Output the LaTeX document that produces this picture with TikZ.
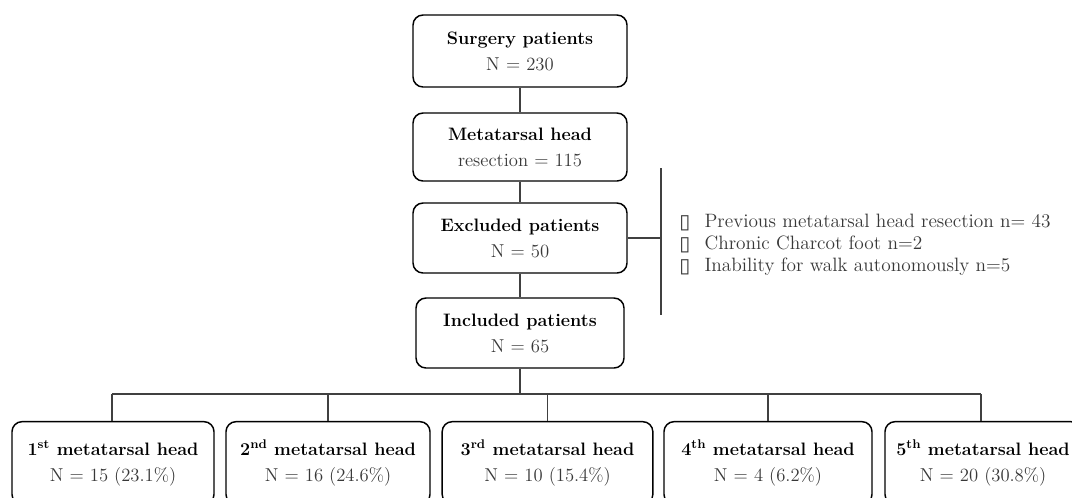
\documentclass[tikz,border=0pt]{standalone}
\usepackage{fontspec}
\newfontfamily\symfont{DejaVu Sans}
\definecolor{txtgray}{HTML}{383838}
\definecolor{linegray}{HTML}{404040}
\tikzset{
  box/.style={draw=black, line width=1.1pt, rounded corners=7.5pt, align=center,
    inner sep=0pt, font=\fontsize{13.5}{19.5}\selectfont},
  conn/.style={draw=linegray, line width=0.8pt},
  listtext/.style={align=left, inner sep=0pt, anchor=west, text=txtgray,
    font=\fontsize{14.5}{16.5}\selectfont},
}
\newcommand{\ttl}[1]{{\bfseries #1}}
\newcommand{\nval}[1]{{\color{txtgray}\fontsize{14}{19.5}\selectfont #1}}
\newcommand{\bul}{\makebox[19pt][l]{\raisebox{-0.5pt}{\symfont\fontsize{15}{15}\selectfont ▯}}}
\begin{document}
\begin{tikzpicture}[x=0.75pt,y=-0.75pt]
\useasboundingbox (0,0) rectangle (1072,497);
\clip (0,0) rectangle (1072,497);
% top column
\node[box, minimum width=160.5pt, minimum height=54pt] (surg) at (520,51)
  {\ttl{Surgery patients}\\\nval{N = 230}};
\node[box, minimum width=160.5pt, minimum height=51pt] (meta) at (520,147)
  {\ttl{Metatarsal head}\\\nval{resection = 115}};
\node[box, minimum width=160.5pt, minimum height=52.5pt] (excl) at (520,238)
  {\ttl{Excluded patients}\\\nval{N = 50}};
\node[box, minimum width=156pt, minimum height=52.5pt] (incl) at (520,333)
  {\ttl{Included patients}\\\nval{N = 65}};
\draw[conn] (surg.south) -- (meta.north);
\draw[conn] (meta.south) -- (excl.north);
\draw[conn] (excl.south) -- (incl.north);
% exclusion reasons
\coordinate (sideTop) at (661,168);
\coordinate (sideBot) at (661,315);
\draw[conn] (sideTop) -- (sideBot);
\draw[conn] (excl.east) -- (excl.east -| sideTop);
\node[listtext] (reasons) at (679,245)
  {\bul Previous metatarsal head resection n= 43\\
   \bul Chronic Charcot foot n=2\\
   \bul Inability for walk autonomously n=5};
% bottom row
\node[box, minimum width=151.5pt, minimum height=62pt] (m1) at (113,463)
  {\ttl{1\textsuperscript{st} metatarsal head}\\\nval{N = 15 (23.1\%)}};
\node[box, minimum width=153pt, minimum height=62pt] (m2) at (328,463)
  {\ttl{2\textsuperscript{nd} metatarsal head}\\\nval{N = 16 (24.6\%)}};
\node[box, minimum width=158pt, minimum height=62pt] (m3) at (547.5,463)
  {\ttl{3\textsuperscript{rd} metatarsal head}\\\nval{N = 10 (15.4\%)}};
\node[box, minimum width=156pt, minimum height=62pt] (m4) at (768,463)
  {\ttl{4\textsuperscript{th} metatarsal head}\\\nval{N = 4 (6.2\%)}};
\node[box, minimum width=147pt, minimum height=62pt] (m5) at (983,463)
  {\ttl{5\textsuperscript{th} metatarsal head}\\\nval{N = 20 (30.8\%)}};
\coordinate (bus) at (520,394);
\coordinate (b1) at (112,394);
\coordinate (b5) at (981,394);
\draw[conn] (incl.south) -- (bus);
\draw[conn] (b1) -- (b5);
\draw[conn] (b1) -- (b1 |- m1.north);
\draw[conn] (m2.north |- bus) -- (m2.north);
\draw[conn] (m3.north |- bus) -- (m3.north);
\draw[conn] (m4.north |- bus) -- (m4.north);
\draw[conn] (b5) -- (b5 |- m5.north);
\end{tikzpicture}
\end{document}
